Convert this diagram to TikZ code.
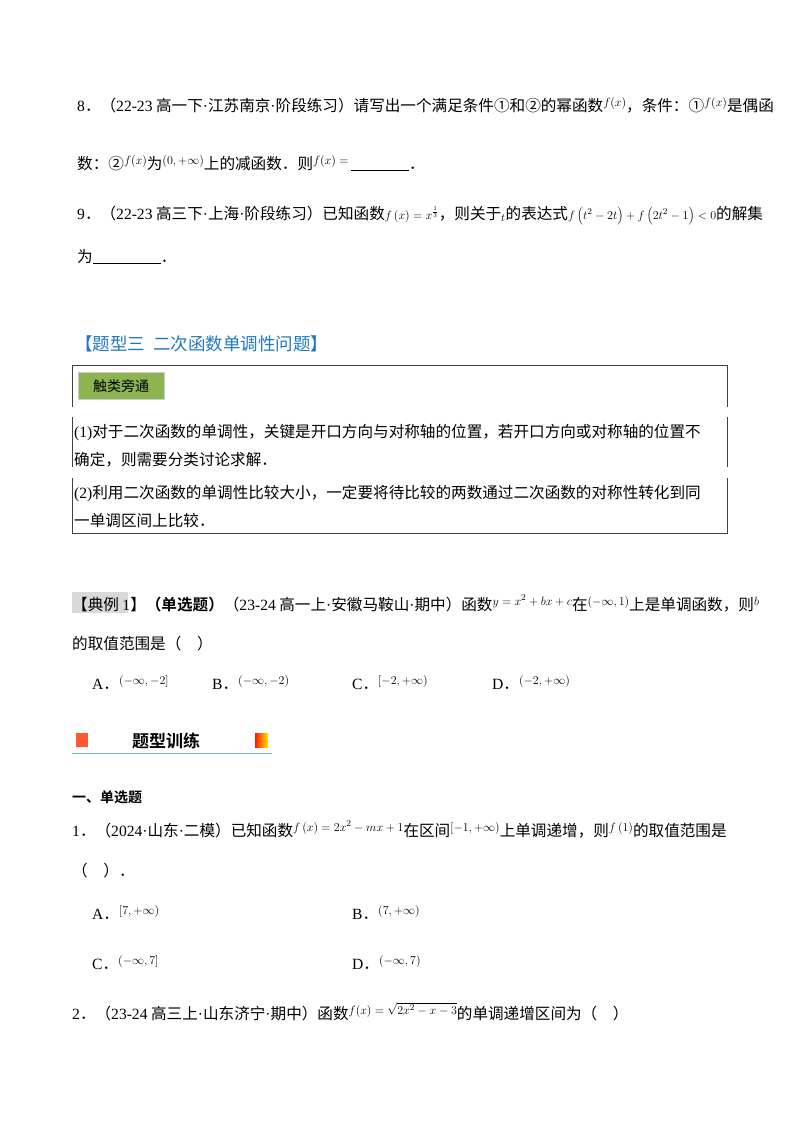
\documentclass[tikz,border=0pt]{standalone}
\usepackage{fontspec}
\setmainfont{Liberation Serif}
\newfontfamily\cjk{Noto Sans CJK SC}
\newfontfamily\cjkb{Noto Sans CJK SC Bold}
\newfontfamily\lib{Liberation Serif}
\newcommand{\md}{{\lib·}}
\newcommand{\up}[1]{\raisebox{5pt}{\fontsize{13}{13}\selectfont$#1$}}
\definecolor{headblue}{RGB}{30,120,200}
\definecolor{lab}{RGB}{140,180,80}
\begin{document}
\begin{tikzpicture}[x=1pt,y=-1pt,
  t/.style={anchor=base west,inner sep=0pt,font=\fontsize{15.6}{15.6}\selectfont\cjk},
  frame/.style={draw=black!75,line width=0.9pt}]
\useasboundingbox[fill=white] (0,0) rectangle (800,1132);
% Q8
\node[t] (q8a) at (77,111) {{\lib 8}．（{\lib 22-23} 高一下\md 江苏南京\md 阶段练习）请写出一个满足条件①和②的幂函数\up{f(x)}，条件：①\up{f(x)}是偶函};
\node[t] (q8b) at (77,169) {数：②\up{f(x)}为\up{(0,+\infty)}上的减函数．则\up{f(x)=}\,\underline{\hspace{58pt}}．};
% Q9
\node[t] (q9a) at (77,219) {{\lib 9}．（{\lib 22-23} 高三下\md 上海\md 阶段练习）已知函数{\fontsize{13}{13}\selectfont$f\left(x\right)=x^{\frac{1}{3}}$}，则关于$_t$的表达式{\fontsize{12.5}{12.5}\selectfont$f\left(t^2-2t\right)+f\left(2t^2-1\right)<0$}的解集};
\node[t] (q9b) at (77,262) {为\underline{\hspace{68pt}}．};
% heading
\node[t,font=\fontsize{17.5}{17.5}\selectfont\cjk,text=headblue] (hd) at (75,350) {【题型三\ \ 二次函数单调性问题】};
% box
\draw[frame] (72,407) -- (72,365) -- (727,365) -- (727,407);
\node[fill=lab,draw=black!20,minimum width=86pt,minimum height=27pt,inner sep=0pt,font=\fontsize{14}{14}\selectfont\cjk] (lbl) at (121,386) {触类旁通};
\draw[frame] (72,417) -- (72,467);
\draw[frame] (727,417) -- (727,467);
\node[t] (b1a) at (74,437) {{\lib(1)}对于二次函数的单调性，关键是开口方向与对称轴的位置，若开口方向或对称轴的位置不};
\node[t] (b1b) at (74,465) {确定，则需要分类讨论求解．};
\draw[frame] (72,478) -- (72,533) -- (727,533) -- (727,478);
\node[t] (b2a) at (74,498) {{\lib(2)}利用二次函数的单调性比较大小，一定要将待比较的两数通过二次函数的对称性转化到同};
\node[t] (b2b) at (74,526) {一单调区间上比较．};
% example
\fill[black!15] (72,592) rectangle (128,613);
\node[t] (ex) at (72,610) {【典例 {\lib 1}】{\cjkb（单选题）}（{\lib 23-24} 高一上\md 安徽马鞍山\md 期中）函数\up{y=x^2+bx+c}在\up{(-\infty,1)}上是单调函数，则\up{b}};
\node[t] (ex2) at (72,649) {的取值范围是（\quad ）};
\node[t] (oa) at (92,689) {{\lib A}．\up{(-\infty,-2]}};
\node[t] (ob) at (212,689) {{\lib B}．\up{(-\infty,-2)}};
\node[t] (oc) at (352,689) {{\lib C}．\up{[-2,+\infty)}};
\node[t] (od) at (492,689) {{\lib D}．\up{(-2,+\infty)}};
% banner
\fill[red!65!orange!80] (76,733) rectangle (88,747);
\shade[left color=red!80!orange,right color=yellow!80!orange] (255,733) rectangle (268,747);
\node[t,font=\fontsize{17}{17}\selectfont\cjkb] (bn) at (132,747) {题型训练};
\draw[headblue!60,line width=0.8pt] (72,753) -- (272,753);
% section
\node[t,font=\fontsize{14}{14}\selectfont\cjkb] (sec) at (72,802) {一、单选题};
\node[t] (p1) at (72,836) {{\lib 1}．（{\lib 2024}\md 山东\md 二模）已知函数\up{f\left(x\right)=2x^2-mx+1}在区间\up{\left[-1,+\infty\right)}上单调递增，则\up{f\left(1\right)}的取值范围是};
\node[t] (p1b) at (72,876) {（\quad ）．};
\node[t] (pa) at (92,919) {{\lib A}．\up{\left[7,+\infty\right)}};
\node[t] (pb) at (352,919) {{\lib B}．\up{\left(7,+\infty\right)}};
\node[t] (pc) at (92,969) {{\lib C}．\up{\left(-\infty,7\right]}};
\node[t] (pd) at (352,969) {{\lib D}．\up{\left(-\infty,7\right)}};
\node[t] (p2) at (72,1019) {{\lib 2}．（{\lib 23-24} 高三上\md 山东济宁\md 期中）函数\up{f(x)=\sqrt{2x^2-x-3}}的单调递增区间为（\quad ）};
\end{tikzpicture}
\end{document}
